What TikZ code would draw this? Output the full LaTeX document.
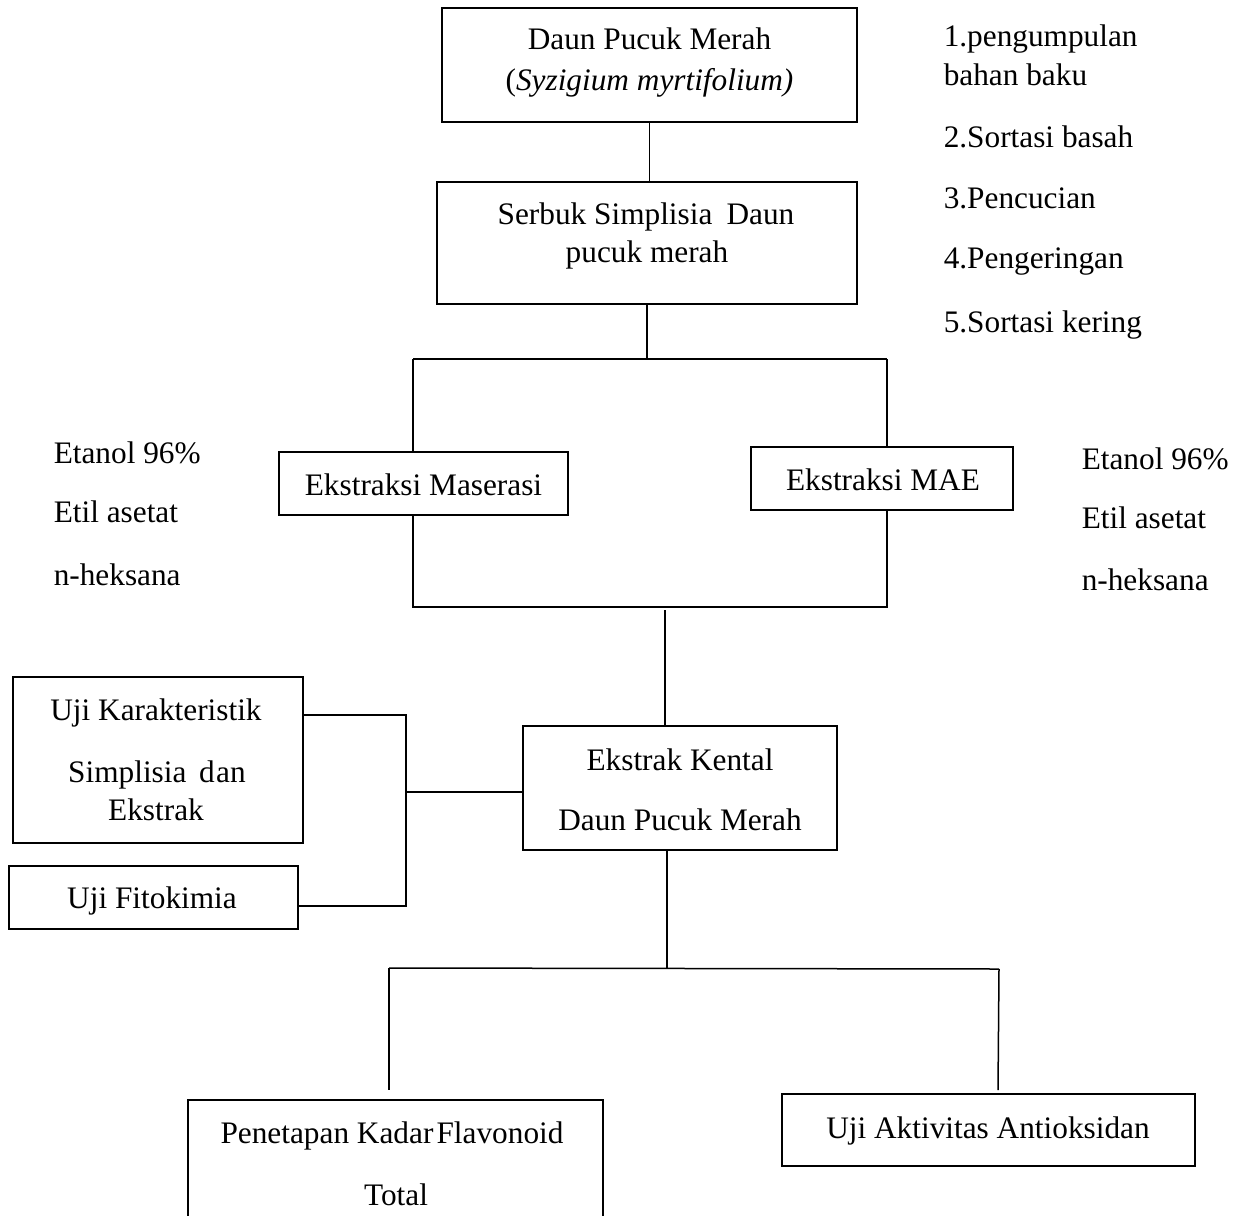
\documentclass[tikz,border=0pt]{standalone}
\usepackage{fontspec}
\setmainfont{Liberation Serif}
\begin{document}
\begin{tikzpicture}[x=1pt,y=-1pt,line width=1.5pt,
  box/.style={draw,inner sep=0pt,outer sep=0pt,line width=1.5pt},
  txt/.style={anchor=base,inner sep=0pt,font=\fontsize{31.3}{37}\selectfont},
  ltxt/.style={txt,anchor=base west}]
\useasboundingbox (0,0) rectangle (1238,1215);
\fill[white] (0,0) rectangle (1238,1215);
\clip (0,0) rectangle (1238,1215);

% boxes
\node[box,minimum width=415pt,minimum height=114pt] (b1) at (649.5,65) {};
\node[txt] (b1a) at (649.5,50) {Daun Pucuk Merah};
\node[txt] (b1b) at (649.5,90) {(\textit{Syzigium myrtifolium)}};

\node[box,minimum width=420pt,minimum height=122pt] (b2) at (647,243) {};
\node[txt] (b2a) at (646,224) {Serbuk Simplisia\hspace{0.45em}Daun};
\node[txt] (b2b) at (647,262) {pucuk merah};

\node[box,minimum width=289pt,minimum height=63pt] (mas) at (423.5,483.5) {};
\node[txt] (masa) at (423.5,495) {Ekstraksi Maserasi};

\node[box,minimum width=262pt,minimum height=63pt] (mae) at (882,478.5) {};
\node[txt] (maea) at (883,490) {Ekstraksi MAE};

\node[box,minimum width=290pt,minimum height=166pt] (uk) at (158,760) {};
\node[txt] (uka) at (156,720) {Uji Karakteristik};
\node[txt] (ukb) at (157,782) {Simplisia\hspace{0.4em}d\hspace{0.05em}an};
\node[txt] (ukc) at (156,820) {Ekstrak};

\node[box,minimum width=289pt,minimum height=63pt] (fito) at (153.5,897.5) {};
\node[txt] (fitoa) at (152,908) {Uji Fitokimia};

\node[box,minimum width=314pt,minimum height=124pt] (ek) at (680,788) {};
\node[txt] (eka) at (680,770) {Ekstrak Kental};
\node[txt] (ekb) at (680,830) {Daun Pucuk Merah};

\node[box,minimum width=415pt,minimum height=140pt] (flav) at (395.5,1170) {};
\node[txt] (flava) at (392,1143) {Penetapan Kadar\hspace{0.1em}Flavonoid};
\node[txt] (flavb) at (396,1205) {Total};

\node[box,minimum width=413pt,minimum height=72pt] (anti) at (988.5,1130) {};
\node[txt] (antia) at (988,1138) {Uji Aktivitas Antioksidan};

% side texts
\node[ltxt] (s1) at (943,47) {1.pengumpulan};
\node[ltxt] (s1b) at (943,85) {bahan baku};
\node[ltxt] (s2) at (943,147) {2.Sortasi basah};
\node[ltxt] (s3) at (943,208) {3.Pencucian};
\node[ltxt] (s4) at (943,268) {4.Pengeringan};
\node[ltxt] (s5) at (943,332) {5.Sortasi kering};

\node[ltxt] (l1) at (53,463) {Etanol 96\%};
\node[ltxt] (l2) at (53,522) {Etil asetat};
\node[ltxt] (l3) at (53,585) {n-heksana};

\node[ltxt] (r1) at (1081,469) {Etanol 96\%};
\node[ltxt] (r2) at (1081,528) {Etil asetat};
\node[ltxt] (r3) at (1081,590) {n-heksana};

% connectors
\draw (b1.south) -- (b1.south |- b2.north);
\coordinate (j1) at (647,359);
\coordinate (jl) at (413,359);
\coordinate (jr) at (887,359);
\draw (b2.south -| j1) -- (j1);
\draw (jl) -- (jr);
\draw (jl) -- (jl |- mas.north);
\draw (jr) -- (jr |- mae.north);

\coordinate (kl) at (413,607);
\coordinate (kr) at (887,607);
\draw (mas.south -| kl) -- (kl) -- (kr) -- (mae.south -| kr);
\coordinate (k1) at (665,610);
\draw (k1) -- (k1 |- ek.north);

\coordinate (m1) at (406,715);
\coordinate (m2) at (406,906);
\coordinate (m3) at (406,792);
\draw (uk.east |- m1) -- (m1) -- (m2) -- (fito.east |- m2);
\draw (m3) -- (m3 -| ek.west);

\coordinate (n1) at (667,968);
\coordinate (nl) at (389,968);
\coordinate (nr) at (999,969);
\coordinate (nl2) at (389,1090);
\coordinate (nr2) at (998,1090);
\draw (ek.south -| n1) -- (n1);
\draw (nl) -- (nr);
\draw (nl) -- (nl2);
\draw (nr) -- (nr2);
\end{tikzpicture}
\end{document}
